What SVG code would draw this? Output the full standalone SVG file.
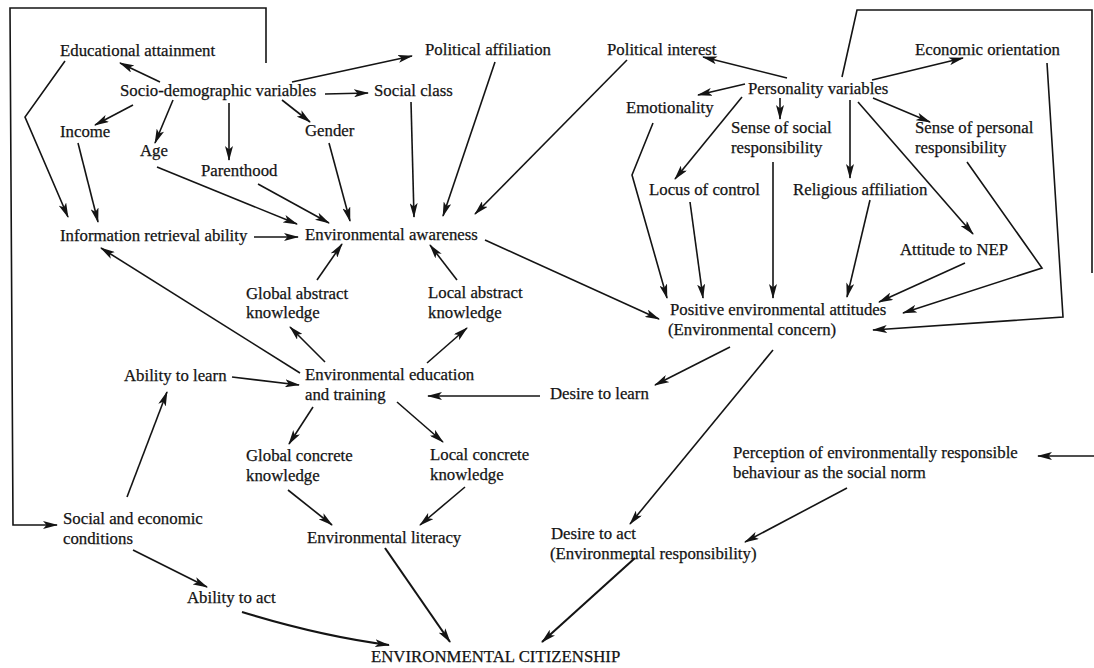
<svg xmlns="http://www.w3.org/2000/svg" width="1094" height="668" viewBox="0 0 1094 668">
<defs>
<style>
text{font-family:"Liberation Serif","Times New Roman",serif;font-size:16.8px;fill:#141414;stroke:#141414;stroke-width:0.25}
.c path,.c line,.c polyline{fill:none;stroke:#141414;stroke-width:1.6;stroke-linejoin:miter}
.c .a{marker-end:url(#ah)}
.c .t{stroke-width:2.1}
</style>
<marker id="ah" viewBox="0 0 15 8" refX="14" refY="4" markerWidth="15" markerHeight="8" markerUnits="userSpaceOnUse" orient="auto">
<path d="M0,0 L15,4 L0,8 L3.5,4 z" fill="#141414"/>
</marker>
</defs>
<rect width="1094" height="668" fill="#fff"/>

<g class="c" id="connectors">
<polyline class="a" points="266,63 266,8 10,8 13,525 57,525"/>
<line class="a" x1="160" y1="82" x2="120" y2="63"/>
<line class="a" x1="133" y1="105" x2="95" y2="125"/>
<line class="a" x1="173" y1="100" x2="155" y2="143"/>
<line class="a" x1="229" y1="103" x2="229" y2="160"/>
<line class="a" x1="282" y1="100" x2="310" y2="122"/>
<line class="a" x1="325" y1="94" x2="368" y2="93"/>
<line class="a" x1="292" y1="82" x2="412" y2="56"/>
<polyline class="a" points="65,61 25,117 68,217"/>
<line class="a" x1="78" y1="143" x2="98" y2="222"/>
<line class="a" x1="157" y1="167" x2="297" y2="224"/>
<line class="a" x1="258" y1="184" x2="329" y2="223"/>
<line class="a" x1="329" y1="143" x2="350" y2="221"/>
<line class="a" x1="254" y1="237" x2="298" y2="237"/>
<line class="a" x1="411" y1="102" x2="414" y2="217"/>
<line class="a" x1="495" y1="62" x2="443" y2="216"/>
<line class="a" x1="627" y1="60" x2="475" y2="214"/>
<line class="a" x1="787" y1="78" x2="703" y2="57"/>
<line class="a" x1="745" y1="84" x2="698" y2="95"/>
<line class="a" x1="742" y1="97" x2="675" y2="179"/>
<line class="a" x1="780" y1="98" x2="780" y2="119"/>
<line class="a" x1="850" y1="100" x2="850" y2="178"/>
<line class="a" x1="873" y1="98" x2="930" y2="122"/>
<line class="a" x1="872" y1="80" x2="963" y2="58"/>
<line class="a" x1="858" y1="102" x2="973" y2="234"/>
<polyline points="842,77 857,10 1092,10 1092,273"/>
<polyline class="a" points="653,123 632,175 667,298"/>
<line class="a" x1="690" y1="202" x2="703" y2="298"/>
<line class="a" x1="773" y1="162" x2="773" y2="298"/>
<line class="a" x1="870" y1="200" x2="847" y2="297"/>
<line class="a" x1="965" y1="263" x2="879" y2="302"/>
<polyline class="a" points="967,162 1042,268 903,313"/>
<polyline class="a" points="1047,63 1063,317 873,330"/>
<line class="a" x1="485" y1="240" x2="659" y2="319"/>
<line class="a" x1="730" y1="347" x2="655" y2="385"/>
<line class="a" x1="540" y1="396" x2="428" y2="396"/>
<line class="a" x1="773" y1="350" x2="630" y2="524"/>
<line class="a" x1="427" y1="363" x2="467" y2="328"/>
<line class="a" x1="457" y1="280" x2="430" y2="245"/>
<line class="a" x1="325" y1="362" x2="290" y2="327"/>
<line class="a" x1="317" y1="280" x2="342" y2="244"/>
<line class="a" x1="300" y1="373" x2="101" y2="248"/>
<line class="a" x1="232" y1="377" x2="299" y2="385"/>
<line class="a" x1="127" y1="497" x2="167" y2="392"/>
<line class="a" x1="313" y1="407" x2="289" y2="444"/>
<line class="a" x1="397" y1="402" x2="443" y2="442"/>
<line class="a" x1="288" y1="490" x2="332" y2="525"/>
<line class="a" x1="465" y1="487" x2="420" y2="525"/>
<line class="a" x1="133" y1="550" x2="207" y2="587"/>
<path class="a t" d="M242,612 Q320,636 389,645"/>
<line class="a t" x1="385" y1="548" x2="450" y2="642"/>
<line class="a t" x1="635" y1="558" x2="542" y2="642"/>
<line class="a" x1="847" y1="488" x2="745" y2="542"/>
<line class="a" x1="1094" y1="456" x2="1038" y2="456"/>
</g>

<g id="educational-attainment"><text x="60" y="56">Educational attainment</text></g>
<g id="socio-demographic"><text x="120" y="96">Socio-demographic variables</text></g>
<g id="income"><text x="60" y="137">Income</text></g>
<g id="age"><text x="140" y="156">Age</text></g>
<g id="parenthood"><text x="201" y="176">Parenthood</text></g>
<g id="gender"><text x="305" y="136">Gender</text></g>
<g id="information-retrieval"><text x="60" y="241">Information retrieval ability</text></g>
<g id="environmental-awareness"><text x="305" y="240">Environmental awareness</text></g>
<g id="political-affiliation"><text x="425" y="55">Political affiliation</text></g>
<g id="social-class"><text x="374" y="96">Social class</text></g>
<g id="political-interest"><text x="607" y="55">Political interest</text></g>
<g id="personality"><text x="748" y="94">Personality variables</text></g>
<g id="economic-orientation"><text x="915" y="55">Economic orientation</text></g>
<g id="emotionality"><text x="626" y="113">Emotionality</text></g>
<g id="social-responsibility"><text x="731" y="133">Sense of social</text><text x="731" y="153">responsibility</text></g>
<g id="personal-responsibility"><text x="915" y="133">Sense of personal</text><text x="915" y="153">responsibility</text></g>
<g id="locus-of-control"><text x="649" y="195">Locus of control</text></g>
<g id="religious-affiliation"><text x="793" y="195">Religious affiliation</text></g>
<g id="attitude-nep"><text x="900" y="255">Attitude to NEP</text></g>
<g id="positive-attitudes"><text x="670" y="315">Positive environmental attitudes</text><text x="668" y="335">(Environmental concern)</text></g>
<g id="global-abstract"><text x="246" y="299">Global abstract</text><text x="246" y="318">knowledge</text></g>
<g id="local-abstract"><text x="428" y="298">Local abstract</text><text x="428" y="318">knowledge</text></g>
<g id="ability-to-learn"><text x="124" y="381">Ability to learn</text></g>
<g id="environmental-education"><text x="305" y="380">Environmental education</text><text x="305" y="400">and training</text></g>
<g id="desire-to-learn"><text x="550" y="399">Desire to learn</text></g>
<g id="global-concrete"><text x="246" y="461">Global concrete</text><text x="246" y="481">knowledge</text></g>
<g id="local-concrete"><text x="430" y="460">Local concrete</text><text x="430" y="480">knowledge</text></g>
<g id="perception"><text x="733" y="458">Perception of environmentally responsible</text><text x="733" y="478">behaviour as the social norm</text></g>
<g id="social-economic"><text x="63" y="524">Social and economic</text><text x="63" y="544">conditions</text></g>
<g id="environmental-literacy"><text x="307" y="543">Environmental literacy</text></g>
<g id="desire-to-act"><text x="551" y="539">Desire to act</text><text x="550" y="559">(Environmental responsibility)</text></g>
<g id="ability-to-act"><text x="187" y="603">Ability to act</text></g>
<g id="citizenship"><text x="371" y="662">ENVIRONMENTAL CITIZENSHIP</text></g>
</svg>
